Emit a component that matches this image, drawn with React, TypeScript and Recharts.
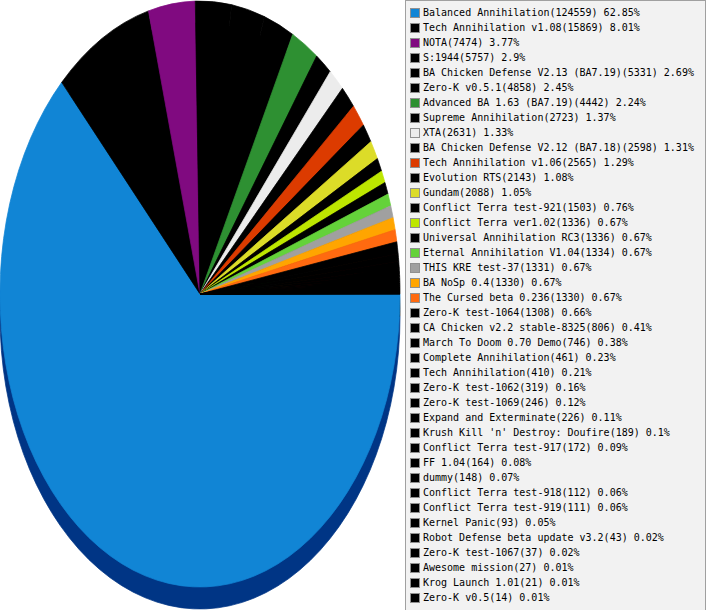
import { PieChart, Pie, Cell } from "recharts";

const names = [
  "Balanced Annihilation",
  "Tech Annihilation v1.08",
  "NOTA",
  "S:1944",
  "BA Chicken Defense V2.13 (BA7.19)",
  "Zero-K v0.5.1",
  "Advanced BA 1.63 (BA7.19)",
  "Supreme Annihilation",
  "XTA",
  "BA Chicken Defense V2.12 (BA7.18)",
  "Tech Annihilation v1.06",
  "Evolution RTS",
  "Gundam",
  "Conflict Terra test-921",
  "Conflict Terra ver1.02",
  "Universal Annihilation RC3",
  "Eternal Annihilation V1.04",
  "THIS KRE test-37",
  "BA NoSp 0.4",
  "The Cursed beta 0.236",
  "Zero-K test-1064",
  "CA Chicken v2.2 stable-8325",
  "March To Doom 0.70 Demo",
  "Complete Annihilation",
  "Tech Annihilation",
  "Zero-K test-1062",
  "Zero-K test-1069",
  "Expand and Exterminate",
  "Krush Kill 'n' Destroy: Doufire",
  "Conflict Terra test-917",
  "FF 1.04",
  "dummy",
  "Conflict Terra test-918",
  "Conflict Terra test-919",
  "Kernel Panic",
  "Robot Defense beta update v3.2",
  "Zero-K test-1067",
  "Awesome mission",
  "Krog Launch 1.01",
  "Zero-K v0.5",
];

const counts = [
  124559, 15869, 7474, 5757, 5331, 4858, 4442, 2723, 2631, 2598, 2565, 2143,
  2088, 1503, 1336, 1336, 1334, 1331, 1330, 1330, 1308, 806, 746, 461, 410,
  319, 246, 226, 189, 172, 164, 148, 112, 111, 93, 43, 37, 27, 21, 14,
];

const shares = [
  "62.85%", "8.01%", "3.77%", "2.9%", "2.69%", "2.45%", "2.24%", "1.37%",
  "1.33%", "1.31%", "1.29%", "1.08%", "1.05%", "0.76%", "0.67%", "0.67%",
  "0.67%", "0.67%", "0.67%", "0.67%", "0.66%", "0.41%", "0.38%", "0.23%",
  "0.21%", "0.16%", "0.12%", "0.11%", "0.1%", "0.09%", "0.08%", "0.07%",
  "0.06%", "0.06%", "0.05%", "0.02%", "0.02%", "0.01%", "0.01%", "0.01%",
];

const K = "#000000";
const colors = [
  "#1185d5", K, "#800a80", K, K, K, "#2e9032", K, "#ececec", K,
  "#dc3b00", K, "#dcdc28", K, "#bde600", K, "#64d23a", "#a0a0a0", "#ffa500", "#ff6a10",
  K, K, K, K, K, K, K, K, K, K,
  K, K, K, K, K, K, K, K, K, K,
];

const data = names.map((name, i) => ({ name, value: counts[i] }));

// pie is drawn round and stretched vertically to get the tilted look
const STRETCH = 1.465;
const CX = 200;
const CY = 294;
const DEPTH = 22;

function darken(hex: string) {
  const n = parseInt(hex.slice(1), 16);
  const f = (v: number) => Math.max(0, v - 80).toString(16).padStart(2, "0");
  return `#${f((n >> 16) & 255)}${f((n >> 8) & 255)}${f(n & 255)}`;
}

function LegendBox() {
  return (
    <div
      style={{
        position: "absolute",
        left: 405,
        top: 0,
        width: 299,
        height: 607,
        border: "1px solid #a0a0a0",
        background: "#f2f2f2",
        paddingTop: 4,
        boxSizing: "content-box",
        fontFamily: "'DejaVu Sans Mono', monospace",
        fontSize: 10,
        color: "#000",
      }}
    >
      {names.map((n, i) => (
        <div
          key={n + i}
          style={{ height: 15, lineHeight: "15px", display: "flex", alignItems: "center", whiteSpace: "nowrap" }}
        >
          <span
            style={{
              display: "inline-block",
              width: 8,
              height: 8,
              marginLeft: 4,
              marginRight: 3,
              background: colors[i],
              border: "1px solid #909090",
            }}
          />
          <span>{`${n}(${counts[i]}) ${shares[i]}`}</span>
        </div>
      ))}
    </div>
  );
}

export default function App() {
  return (
    <div style={{ position: "absolute", left: 0, top: 0, width: 707, height: 610, background: "#fff" }}>
      <div style={{ position: "absolute", left: 0, top: 0, transform: `scaleY(${STRETCH})`, transformOrigin: "0 0" }}>
        <PieChart width={405} height={418} margin={{ top: 0, right: 0, bottom: 0, left: 0 }}>
          <Pie
            data={data}
            dataKey="value"
            cx={CX}
            cy={(CY + DEPTH) / STRETCH}
            outerRadius={200}
            startAngle={0}
            endAngle={-360}
            isAnimationActive={false}
          >
            {data.map((d, i) => (
              <Cell key={`d${i}`} fill={darken(colors[i])} stroke={darken(colors[i])} strokeWidth={0.6} />
            ))}
          </Pie>
          <Pie
            data={data}
            dataKey="value"
            cx={CX}
            cy={CY / STRETCH}
            outerRadius={200}
            startAngle={0}
            endAngle={-360}
            isAnimationActive={false}
          >
            {data.map((d, i) => (
              <Cell key={`t${i}`} fill={colors[i]} stroke={colors[i]} strokeWidth={0.6} />
            ))}
          </Pie>
        </PieChart>
      </div>
      <LegendBox />
    </div>
  );
}
